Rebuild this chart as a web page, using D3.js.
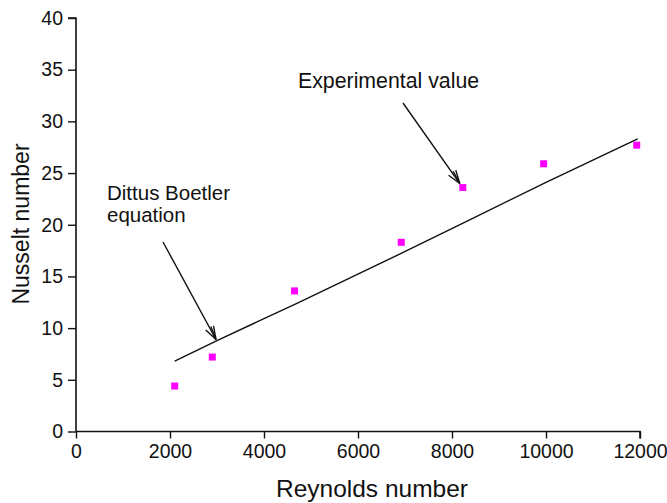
<!DOCTYPE html>
<html>
<head>
<meta charset="utf-8">
<script src="https://cdn.jsdelivr.net/npm/d3@7"></script>
<style>
  html, body { margin: 0; padding: 0; background: #fff; }
  svg text { font-family: "Liberation Sans", Arial, sans-serif; fill: #111; }
</style>
</head>
<body>
<svg id="chart" width="667" height="503"></svg>
<script>
// Experimental Nusselt numbers against Reynolds number
const expRe = [2100, 2900, 4650, 6920, 8230, 9950, 11930];
const expNu = [4.4, 7.2, 13.6, 18.3, 23.6, 25.9, 27.7];

// Dittus-Boelter correlation curve
const dbRe = [2100, 3000, 4700, 6950, 8300, 10000, 11950];
const dbNu = [6.8, 8.8, 12.4, 17.3, 20.3, 24.1, 28.3];

// Axis ticks
const xTicks = [0, 2000, 4000, 6000, 8000, 10000, 12000];
const yTicks = [0, 5, 10, 15, 20, 25, 30, 35, 40];

const svg = d3.select("#chart");
const plotL = 76, plotR = 640, plotT = 18, plotB = 431.5;

const x = d3.scaleLinear().domain([0, 12000]).range([plotL, plotR]);
const y = d3.scaleLinear().domain([0, 40]).range([plotB, plotT]);

// Axes
const xAxis = d3.axisBottom(x).tickValues(xTicks).tickSize(7).tickPadding(6).tickFormat(d3.format("d"));
const yAxis = d3.axisLeft(y).tickValues(yTicks).tickSize(8).tickPadding(5).tickFormat(d3.format("d"));

const gx = svg.append("g").attr("transform", `translate(0,${plotB})`).call(xAxis);
const gy = svg.append("g").attr("transform", `translate(${plotL},0)`).call(yAxis);
[gx, gy].forEach(g => {
  g.select(".domain").attr("stroke", "#111").attr("stroke-width", 1.6);
  g.selectAll(".tick line").attr("stroke", "#111").attr("stroke-width", 1.4);
  g.selectAll(".tick text").attr("font-size", 19.5).attr("fill", "#111")
    .style("font-family", '"Liberation Sans", Arial, sans-serif');
});
gx.select(".domain").attr("d", `M${plotL},0H${plotR}V7`);
gy.select(".domain").attr("d", `M-8,${plotT}H0V${plotB}`);

// Axis titles
svg.append("text").attr("x", 372).attr("y", 497)
  .attr("text-anchor", "middle").attr("font-size", 24.5).text("Reynolds number");
svg.append("text").attr("transform", `translate(29,224) rotate(-90)`)
  .attr("text-anchor", "middle").attr("font-size", 23).text("Nusselt number");

// Correlation line
const dbPts = dbRe.map((r, i) => [r, dbNu[i]]);
svg.append("path").datum(dbPts)
  .attr("fill", "none").attr("stroke", "#111").attr("stroke-width", 1.4)
  .attr("d", d3.line().x(d => x(d[0])).y(d => y(d[1])));

// Experimental points
const expPts = expRe.map((r, i) => [r, expNu[i]]);
svg.append("g").selectAll("rect").data(expPts).join("rect")
  .attr("x", d => x(d[0]) - 3.5).attr("y", d => y(d[1]) - 3.5)
  .attr("width", 7).attr("height", 7).attr("fill", "#ff00ff");

// Annotations with open arrowheads
function arrow(x1, y1, x2, y2) {
  const g = svg.append("g").attr("stroke", "#111").attr("stroke-width", 1.4).attr("fill", "none");
  g.append("line").attr("x1", x1).attr("y1", y1).attr("x2", x2).attr("y2", y2);
  const a = Math.atan2(y2 - y1, x2 - x1), len = 14, spread = 0.32;
  [-spread, 0.12, spread].forEach(s => {
    g.append("line").attr("x1", x2).attr("y1", y2)
      .attr("x2", x2 - len * Math.cos(a + s)).attr("y2", y2 - len * Math.sin(a + s));
  });
}

svg.append("text").attr("x", 107).attr("y", 200).attr("font-size", 20.5).text("Dittus Boetler");
svg.append("text").attr("x", 107).attr("y", 222).attr("font-size", 20.5).text("equation");
arrow(163, 242, x(dbRe[1]) - 1, y(dbNu[1]) - 1);

svg.append("text").attr("x", 298).attr("y", 88).attr("font-size", 21.3).text("Experimental value");
arrow(403, 103, x(expRe[4]) - 3, y(expNu[4]) - 4);
</script>
</body>
</html>
